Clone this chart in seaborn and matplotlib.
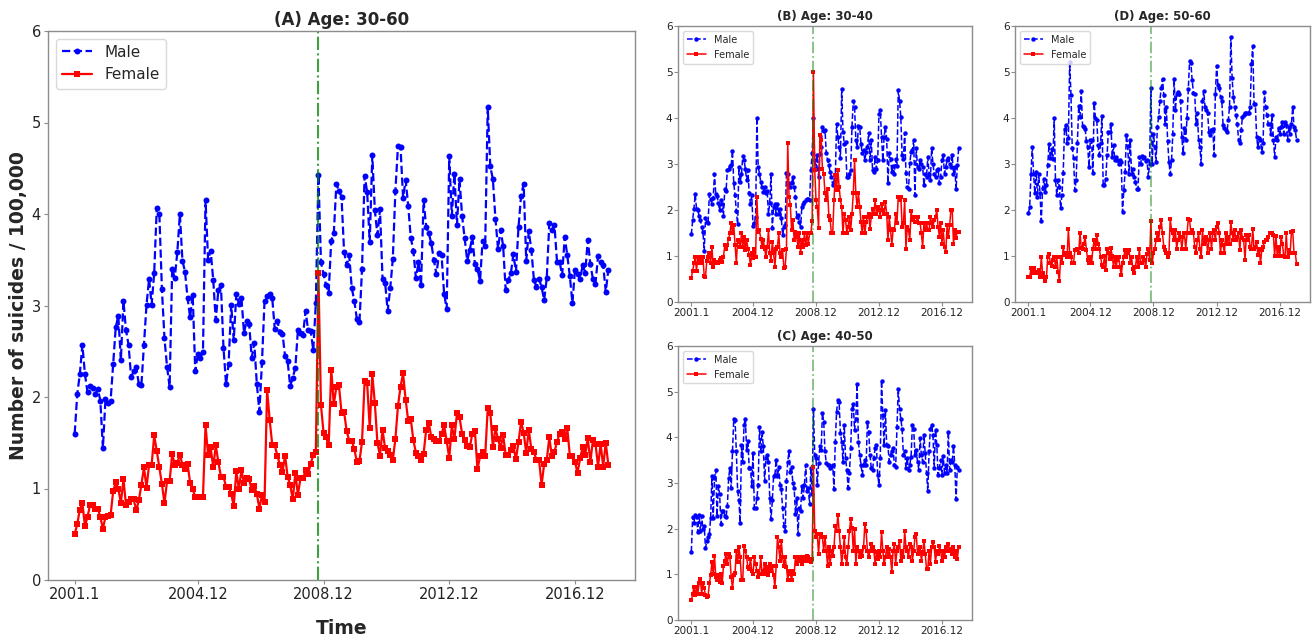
import numpy as np
import seaborn as sns
import matplotlib
matplotlib.use("Agg")
import matplotlib.pyplot as plt

# monthly rates, 2001.1 onwards (209 months)
tick_pos = [0, 48, 97, 146, 195]
tick_labels = ['2001.1', '2004.12', '2008.12', '2012.12', '2016.12']
event_month = 95  # 2008.12

# (A) age 30-60
male_a = [
    1.60, 2.03, 2.25, 2.57, 2.25, 2.05, 2.12, 2.10, 2.03, 2.09,
    1.96, 1.44, 1.98, 1.93, 1.96, 2.36, 2.76, 2.89, 2.40, 3.05,
    2.73, 2.57, 2.22, 2.28, 2.33, 2.14, 2.13, 2.57, 3.01, 3.29,
    3.01, 3.36, 4.07, 4.00, 3.18, 2.64, 2.33, 2.11, 3.40, 3.30,
    3.58, 4.00, 3.49, 3.37, 3.08, 2.87,
    3.12, 2.28, 2.47, 2.43, 2.49, 4.15, 3.50, 3.60, 3.28, 2.84,
    3.17, 3.22, 2.54, 2.14, 2.36, 3.01, 2.62, 3.13, 3.02, 3.08,
    2.70, 2.83, 2.80, 2.43, 2.59, 2.14, 1.84, 2.38, 3.05, 3.10,
    3.13, 3.08, 2.74, 2.83, 2.71, 2.69, 2.45, 2.39, 2.12, 2.21,
    2.32, 2.73, 2.70, 2.68, 2.94, 2.73, 2.72, 2.51, 3.03,
    4.43,
    3.47, 3.34, 3.22, 3.14, 3.71, 3.79, 4.33, 4.25, 4.19, 3.59,
    3.44, 3.55, 3.19, 3.05, 2.85, 2.82, 3.40, 4.42, 4.24, 3.69,
    4.64, 4.04, 3.77, 4.05, 3.29, 3.25, 2.94, 3.19, 3.51, 4.25,
    4.74, 4.73, 4.18, 4.37, 4.09, 3.74, 3.60, 3.30, 3.47, 3.22,
    4.15, 3.86, 3.79, 3.68, 3.50, 3.34, 3.57, 3.55, 3.13, 2.96,
    4.63, 3.98, 4.44, 3.88, 4.38, 3.98, 3.74, 3.49,
    3.61, 3.75, 3.45, 3.40, 3.27, 3.71, 3.65, 5.17, 4.52, 4.38,
    3.95, 3.62, 3.83, 3.65, 3.17, 3.28, 3.35, 3.56, 3.37, 3.86,
    4.20, 4.33, 3.49, 3.81, 3.61, 3.28, 3.20, 3.29, 3.20, 3.06,
    3.30, 3.90, 3.83, 3.88, 3.48, 3.48, 3.33, 3.75, 3.55, 3.32,
    3.03, 3.39, 3.34, 3.29, 3.44, 3.36, 3.72, 3.45, 3.29, 3.24,
    3.54, 3.48, 3.44, 3.15, 3.39,
]
female_a = [
    0.50, 0.61, 0.77, 0.84, 0.59, 0.69, 0.82, 0.82, 0.78, 0.78,
    0.69, 0.56, 0.69, 0.70, 0.71, 0.97, 1.07, 1.00, 0.84, 1.10,
    0.82, 0.85, 0.88, 0.88, 0.76, 0.87, 1.04, 1.23, 1.01, 1.26,
    1.26, 1.58, 1.41, 1.23, 1.05, 0.84, 1.08, 1.08, 1.38, 1.26,
    1.28, 1.37, 1.26, 1.21, 1.27,
    1.06, 0.99, 0.91, 0.91, 0.91, 0.91, 1.69, 1.37, 1.45, 1.23,
    1.47, 1.29, 1.13, 1.13, 1.02, 1.02, 0.94, 0.81, 1.19, 0.99,
    1.20, 1.06, 1.12, 1.10, 0.98, 1.03, 0.94, 0.78, 0.93, 0.85,
    2.08, 1.75, 1.48, 1.47, 1.36, 1.26, 1.18, 1.36, 1.13, 1.04,
    0.88, 1.17, 0.93, 1.11, 1.11, 1.20, 1.16, 1.27, 1.37, 1.40,
    3.35,
    1.91, 1.61, 1.56, 1.47, 2.30, 1.92, 2.11, 2.13, 1.83, 1.84,
    1.63, 1.52, 1.52, 1.43, 1.29, 1.30, 1.51, 2.17, 2.15, 1.66,
    2.25, 1.93, 1.50, 1.36, 1.64, 1.44, 1.41, 1.37, 1.31, 1.54,
    1.90, 2.11, 2.26, 1.97, 1.74, 1.76, 1.53, 1.39, 1.35, 1.31,
    1.38, 1.64, 1.72, 1.56, 1.54, 1.52, 1.52, 1.60, 1.69, 1.52,
    1.33, 1.69, 1.54, 1.82, 1.78, 1.60, 1.53, 1.46,
    1.45, 1.60, 1.63, 1.21, 1.35, 1.40, 1.35, 1.88, 1.83, 1.45,
    1.66, 1.54, 1.44, 1.58, 1.37, 1.37, 1.42, 1.46, 1.32, 1.51,
    1.73, 1.61, 1.39, 1.64, 1.43, 1.40, 1.31, 1.31, 1.04, 1.27,
    1.31, 1.56, 1.35, 1.40, 1.51, 1.60, 1.62, 1.54, 1.66, 1.36,
    1.35, 1.29, 1.17, 1.33, 1.45, 1.37, 1.55, 1.29, 1.53, 1.49,
    1.24, 1.49, 1.24, 1.50, 1.26,
]

# (B) age 30-40
male_b = [
    1.47, 1.78, 2.03, 2.34, 2.03, 2.00, 1.87, 1.78, 1.64, 1.53,
    1.11, 1.82, 1.74, 1.71, 2.34, 2.24, 2.13, 2.27, 2.78, 2.34,
    2.30, 2.15, 2.00, 2.21, 2.13, 1.87, 2.46, 2.42, 2.87, 2.90,
    2.95, 2.97, 3.29, 2.58, 2.32, 1.98, 1.69, 2.94, 2.61, 2.78,
    3.17, 3.08, 2.90, 2.65, 2.87, 2.36, 2.14, 2.32, 1.65, 1.71,
    1.85, 4.01, 2.94, 2.79, 2.61, 2.50, 2.40, 2.50, 2.36, 2.42,
    1.92, 2.16, 2.78, 1.60, 2.07, 2.13, 1.92, 2.13, 1.92, 2.03,
    1.82, 1.45, 1.64, 1.67, 2.81, 2.79, 2.59, 2.50, 2.59, 2.71,
    2.50, 2.29, 1.85, 1.89, 1.74, 1.64, 2.07, 2.14, 2.18, 2.21,
    2.23, 2.25, 2.21, 2.87, 3.23, 4.01, 3.08, 2.90, 3.19, 2.71,
    3.21, 3.37, 3.81, 3.72, 3.75, 3.23, 3.08, 2.97, 2.83, 2.72,
    2.54, 2.61, 2.68, 3.88, 3.59, 3.37, 3.12, 4.64, 3.70, 3.44,
    3.48, 2.72, 2.71, 2.79, 2.87, 3.81, 4.37, 4.25, 3.52, 3.37,
    3.82, 3.81, 3.44, 3.23, 3.30, 3.08, 3.26, 3.37, 3.68, 3.08,
    3.53, 2.87, 2.83, 3.15, 2.90, 3.08, 4.08, 4.17, 3.59, 3.08,
    3.59, 3.81, 3.55, 2.59, 3.23, 3.10, 2.83, 2.95, 2.79, 3.10,
    2.95, 4.60, 4.38, 4.02, 3.19, 3.10, 3.68, 2.81, 2.50, 2.45,
    3.02, 3.26, 3.30, 3.52, 2.32, 3.34, 2.94, 2.90, 3.08, 3.01,
    2.94, 2.54, 2.79, 2.72, 3.15, 2.79, 2.65, 3.34, 3.01, 2.79,
    2.72, 2.87, 2.90, 2.58, 2.72, 3.08, 3.19, 2.79, 2.94, 3.08,
    3.12, 3.01, 2.94, 3.19, 2.79, 2.94, 2.45, 2.97, 3.34,
]
female_b = [
    0.53, 0.68, 0.84, 0.98, 0.68, 0.98, 0.84, 0.98, 0.84, 0.98,
    0.56, 0.55, 0.90, 0.98, 1.06, 0.84, 1.20, 0.77, 0.91, 0.84,
    0.88, 0.84, 0.91, 0.95, 0.88, 0.98, 1.24, 1.16, 1.24, 1.38,
    1.49, 1.72, 1.49, 1.67, 1.24, 0.85, 1.35, 1.31, 1.20, 1.49,
    1.20, 1.42, 1.13, 1.35, 1.16, 1.02, 0.80, 1.06, 0.95, 1.16,
    0.98, 2.29, 1.53, 1.56, 1.38, 1.20, 1.35, 1.16, 0.98, 1.20,
    1.56, 1.06, 0.90, 1.31, 1.06, 0.77, 1.16, 1.20, 1.49, 1.06,
    0.98, 1.13, 0.73, 0.77, 1.16, 3.46, 2.29, 2.11, 1.56, 1.78,
    1.35, 1.53, 1.42, 1.20, 1.49, 1.06, 1.35, 1.20, 1.49, 1.24,
    1.49, 1.27, 1.49, 1.49, 1.77, 5.00, 2.87, 2.21, 2.07, 1.60,
    3.62, 3.52, 2.90, 2.79, 2.36, 2.21, 2.45, 1.87, 1.78, 1.49,
    1.49, 2.21, 2.76, 2.43, 2.87, 2.50, 2.21, 2.07, 1.49, 1.92,
    1.78, 1.49, 1.64, 1.85, 1.56, 1.92, 2.36, 3.08, 2.36, 2.07,
    2.36, 2.07, 1.74, 1.49, 1.85, 1.49, 1.74, 1.85, 1.92, 1.59,
    1.85, 2.03, 1.92, 2.21, 1.92, 2.07, 2.00, 1.85, 2.14, 2.00,
    1.92, 2.18, 1.92, 1.35, 1.85, 1.56, 1.24, 1.58, 1.56, 1.92,
    1.71, 2.29, 2.21, 2.29, 1.64, 1.71, 2.21, 1.16, 1.64, 1.56,
    1.35, 1.98, 1.78, 1.85, 1.74, 1.74, 1.85, 1.72, 1.72, 1.49,
    1.20, 1.71, 1.56, 1.71, 1.56, 1.56, 1.85, 1.71, 1.64, 1.78,
    1.85, 2.00, 1.64, 1.42, 1.71, 1.27, 1.56, 1.20, 1.09, 1.67,
    1.42, 1.67, 2.00, 2.00, 1.27, 1.56, 1.40, 1.53, 1.53,
]

# (C) age 40-50
male_c = [
    1.50, 2.26, 2.13, 2.31, 2.26, 1.92, 2.31, 1.95, 2.28, 1.99,
    2.06, 1.58, 1.72, 1.81, 1.88, 2.24, 3.15, 2.24, 3.11, 3.29,
    2.28, 2.93, 2.75, 2.10, 2.39, 2.39, 2.28, 2.26, 2.49, 3.11,
    3.33, 2.89, 3.69, 4.41, 4.37, 3.69, 2.83, 2.62, 2.13, 3.83,
    3.47, 4.27, 4.41, 3.72, 3.92, 3.33, 3.33, 2.93, 3.65, 2.46,
    2.46, 2.68, 2.95, 4.23, 3.69, 4.12, 3.80, 3.04, 3.54, 3.62,
    3.47, 2.68, 2.21, 2.62, 3.15, 3.18, 3.51, 3.15, 3.36, 2.96,
    2.86, 2.46, 2.06, 1.95, 3.04, 3.47, 3.69, 3.25, 3.34, 3.00,
    2.89, 2.33, 2.68, 1.88, 2.46, 2.39, 2.93, 2.68, 2.96, 3.40,
    2.82, 2.89, 2.53, 3.33, 2.75, 4.63, 3.62, 3.54, 2.96, 3.43,
    3.80, 3.72, 4.53, 4.34, 3.69, 3.43, 3.40, 3.40, 3.33, 3.36,
    3.40, 2.86, 3.90, 4.56, 4.81, 4.77, 4.09, 3.90, 3.47, 4.27,
    3.54, 3.29, 2.89, 3.22, 3.76, 4.63, 4.74, 4.16, 4.41, 5.17,
    3.90, 3.62, 3.40, 3.18, 3.40, 3.51, 3.40, 4.34, 4.12, 3.62,
    3.33, 3.29, 3.54, 3.76, 3.83, 3.18, 2.96, 3.54, 5.24, 4.48,
    3.83, 4.59, 3.83, 3.80, 3.47, 3.62, 3.69, 3.76, 3.40, 3.36,
    4.23, 5.06, 4.63, 4.41, 4.19, 3.62, 3.69, 3.33, 3.54, 3.29,
    3.40, 3.58, 4.27, 4.19, 3.62, 3.72, 3.47, 3.29, 3.98, 3.62,
    3.47, 4.05, 3.65, 3.22, 2.82, 3.69, 4.19, 4.27, 4.05, 3.33,
    4.16, 3.83, 3.18, 3.33, 3.51, 3.18, 3.60, 3.22, 3.40, 3.22,
    4.12, 3.29, 3.51, 3.47, 3.80, 3.40, 2.64, 3.36, 3.29,
]
female_c = [
    0.43, 0.56, 0.72, 0.54, 0.72, 0.58, 0.80, 0.90, 0.58, 0.80,
    0.69, 0.54, 0.51, 0.52, 0.80, 0.98, 1.27, 1.01, 1.41, 0.94,
    0.87, 0.98, 0.83, 1.01, 0.81, 1.19, 1.30, 1.45, 1.23, 1.45,
    1.37, 0.94, 0.69, 0.98, 1.03, 1.52, 1.27, 1.59, 1.37, 0.87,
    0.87, 1.63, 1.52, 1.37, 1.16, 1.12, 1.34, 1.08, 1.01, 1.37,
    1.23, 1.08, 0.94, 1.01, 1.37, 1.01, 1.08, 1.23, 1.01, 1.16,
    0.98, 1.23, 1.08, 1.19, 0.98, 0.72, 1.19, 1.81, 1.59, 1.30,
    1.74, 1.37, 1.19, 1.37, 1.16, 0.87, 1.08, 1.01, 0.87, 1.08,
    1.01, 1.37, 1.23, 1.37, 1.30, 1.37, 1.23, 1.30, 1.37, 1.30,
    1.41, 1.37, 1.30, 1.27, 1.34, 3.36, 1.95, 1.81, 1.88, 1.45,
    1.88, 1.88, 1.81, 1.52, 1.81, 1.52, 1.19, 1.59, 1.23, 1.52,
    1.41, 1.59, 2.06, 1.95, 2.31, 1.95, 1.59, 1.23, 1.48, 1.81,
    1.37, 1.23, 1.59, 1.95, 2.21, 2.02, 1.52, 1.99, 1.23, 1.59,
    1.52, 1.37, 1.52, 1.41, 1.59, 2.10, 1.95, 1.52, 1.37, 1.52,
    1.66, 1.59, 1.52, 1.23, 1.48, 1.34, 1.52, 1.39, 1.92, 1.52,
    1.23, 1.37, 1.59, 1.37, 1.55, 1.37, 1.05, 1.52, 1.66, 1.23,
    1.52, 1.59, 1.74, 1.30, 1.52, 1.37, 1.95, 1.59, 1.52, 1.37,
    1.66, 1.59, 1.30, 1.52, 1.81, 1.88, 1.45, 1.52, 1.59, 1.30,
    1.48, 1.74, 1.45, 1.12, 1.12, 1.52, 1.23, 1.59, 1.70, 1.59,
    1.27, 1.52, 1.45, 1.61, 1.52, 1.30, 1.52, 1.37, 1.59, 1.52,
    1.66, 1.52, 1.55, 1.45, 1.59, 1.37, 1.52, 1.34, 1.59,
]

# (D) age 50-60
male_d = [
    1.93, 2.07, 2.79, 3.37, 2.79, 2.36, 2.83, 2.29, 2.79, 2.36,
    1.77, 2.47, 2.68, 2.40, 2.54, 2.97, 3.43, 3.12, 3.32, 3.11,
    4.00, 2.65, 2.33, 2.65, 2.51, 2.04, 2.33, 2.81, 3.77, 3.85,
    3.45, 3.56, 5.21, 4.51, 3.35, 3.12, 2.43, 2.65, 3.45, 4.26,
    4.03, 4.58, 3.83, 3.80, 3.77, 3.49, 3.37, 2.94, 3.52, 3.52,
    2.81, 4.32, 3.99, 3.96, 3.41, 3.20, 3.45, 4.05, 2.54, 2.54,
    2.68, 3.20, 3.70, 3.70, 3.88, 3.16, 3.41, 3.09, 3.16, 3.09,
    3.01, 3.09, 3.05, 1.96, 2.43, 2.83, 3.63, 3.39, 2.79, 3.52,
    2.79, 2.90, 2.72, 2.61, 2.45, 2.46, 3.16, 3.00, 3.17, 3.12,
    3.16, 3.07, 3.08, 2.72, 3.01, 4.66, 3.01, 3.66, 3.37, 3.05,
    3.81, 4.02, 4.38, 4.66, 4.85, 4.49, 3.88, 4.24, 3.49, 3.05,
    2.78, 3.08, 3.66, 4.84, 4.17, 4.53, 4.56, 4.53, 4.38, 3.59,
    3.23, 3.78, 3.52, 3.99, 4.62, 5.25, 5.19, 4.82, 4.55, 4.52,
    3.88, 4.10, 3.52, 3.37, 3.01, 4.38, 4.59, 4.24, 4.17, 4.10,
    3.70, 3.63, 3.73, 3.77, 3.19, 4.53, 5.14, 4.71, 4.66, 4.46,
    4.38, 3.84, 3.79, 3.73, 3.70, 3.95, 4.24, 5.76, 4.86, 4.46,
    4.24, 4.06, 3.88, 3.52, 3.45, 3.73, 4.02, 4.06, 4.10, 4.10,
    4.10, 4.10, 4.24, 5.18, 5.56, 4.31, 4.31, 3.59, 3.36, 3.57,
    3.52, 3.26, 3.45, 4.57, 4.24, 4.06, 3.88, 3.86, 3.66, 4.06,
    3.52, 3.16, 3.59, 3.52, 3.79, 3.66, 3.81, 3.92, 3.66, 3.92,
    3.84, 3.52, 3.81, 3.66, 3.88, 4.23, 3.81, 3.73, 3.52,
]
female_d = [
    0.55, 0.55, 0.73, 0.62, 0.73, 0.62, 0.66, 0.62, 0.69, 0.55,
    0.98, 0.62, 0.55, 0.45, 0.55, 0.98, 1.04, 0.84, 0.78, 0.91,
    0.98, 0.77, 0.98, 0.66, 0.45, 0.98, 0.84, 1.20, 1.02, 1.06,
    0.98, 1.58, 1.06, 0.98, 0.84, 0.84, 1.13, 1.13, 1.16, 1.06,
    1.51, 1.17, 1.16, 1.27, 1.41, 1.13, 0.91, 0.84, 0.98, 0.84,
    1.16, 1.34, 1.16, 1.45, 1.27, 1.16, 0.98, 0.80, 0.77, 1.00,
    0.69, 1.16, 1.06, 0.93, 1.17, 1.00, 0.77, 0.98, 0.77, 0.91,
    0.98, 0.77, 0.58, 0.84, 0.98, 1.14, 0.98, 1.06, 1.14, 0.84,
    0.98, 0.71, 0.62, 0.77, 0.98, 0.77, 1.16, 0.84, 0.84, 0.98,
    0.91, 0.77, 1.04, 1.16, 0.91, 1.77, 0.84, 1.06, 1.16, 1.34,
    1.49, 1.34, 1.64, 1.78, 1.49, 1.20, 1.13, 1.06, 0.98, 1.06,
    1.81, 1.56, 1.49, 1.34, 1.56, 1.16, 1.34, 1.49, 1.42, 1.16,
    1.42, 1.49, 1.16, 1.49, 1.81, 1.78, 1.49, 1.56, 1.49, 1.20,
    1.06, 1.34, 1.49, 1.16, 0.98, 1.56, 1.27, 1.34, 1.42, 1.06,
    1.34, 1.49, 1.16, 1.49, 1.56, 1.34, 1.64, 1.71, 1.49, 1.06,
    1.34, 1.24, 1.06, 1.49, 1.27, 1.42, 1.27, 1.74, 1.49, 1.34,
    1.56, 1.34, 1.42, 1.49, 1.13, 1.56, 1.40, 1.34, 0.91, 1.45,
    1.34, 1.45, 1.20, 1.16, 1.58, 1.16, 1.20, 1.31, 1.02, 1.16,
    0.84, 1.13, 1.20, 1.31, 1.34, 1.34, 1.42, 1.49, 1.49, 1.49,
    1.45, 1.00, 1.43, 1.00, 1.20, 1.00, 1.42, 1.27, 1.00, 0.98,
    1.49, 0.98, 1.14, 1.06, 1.53, 1.54, 1.06, 1.06, 0.82,
]

sns.set_style("white")
plt.rcParams['font.family'] = ['DejaVu Sans']
plt.rcParams['axes.edgecolor'] = '#8c8c8c'
plt.rcParams['xtick.color'] = '#8c8c8c'
plt.rcParams['ytick.color'] = '#8c8c8c'
plt.rcParams['xtick.labelcolor'] = '#222222'
plt.rcParams['ytick.labelcolor'] = '#222222'
plt.rcParams['xtick.bottom'] = True
plt.rcParams['ytick.left'] = True
plt.rcParams['xtick.major.size'] = 3
plt.rcParams['ytick.major.size'] = 3


def draw_panel(ax, male, female, title, big):
    ms = 4.3 if big else 3.2
    lw = 1.6 if big else 1.1
    fs_tick = 10.5 if big else 7.5
    fs_title = 12 if big else 8.5
    fs_leg = 11 if big else 7
    sns.lineplot(x=np.arange(len(male)), y=male, ax=ax, color='blue',
                 linestyle='--', marker='o', markersize=ms, markeredgewidth=0,
                 linewidth=lw, label='Male')
    sns.lineplot(x=np.arange(len(female)), y=female, ax=ax, color='red',
                 linestyle='-', marker='s', markersize=ms, markeredgewidth=0,
                 linewidth=lw, label='Female')
    ax.axvline(event_month, color='green', linestyle='-.',
               linewidth=1.5 if big else 1.3, alpha=0.75 if big else 0.5)
    ax.set_ylim(0, 6)
    ax.set_xticks(tick_pos)
    ax.set_xticklabels(tick_labels)
    ax.tick_params(labelsize=fs_tick, pad=2 if big else 1)
    ax.set_title(title, fontsize=fs_title, fontweight='bold', pad=4)
    ax.legend(loc='upper left', fontsize=fs_leg, frameon=True,
              framealpha=0.8, edgecolor='#d0d0d0', fancybox=True)
    ax.set_xlabel('')
    ax.set_ylabel('')
    for s in ax.spines.values():
        s.set_linewidth(1.0)


W, H = 1313, 636
fig = plt.figure(figsize=(W / 100, H / 100), dpi=100)


def add_ax(x0, x1, y0, y1):
    return fig.add_axes([x0 / W, 1 - y1 / H, (x1 - x0) / W, (y1 - y0) / H])


ax_a = add_ax(48, 635, 31, 580)
ax_b = add_ax(678, 972, 26, 302)
ax_d = add_ax(1015, 1310, 26, 302)
ax_c = add_ax(678, 972, 346, 620)

draw_panel(ax_a, male_a, female_a, '(A) Age: 30-60', True)
draw_panel(ax_b, male_b, female_b, '(B) Age: 30-40', False)
draw_panel(ax_c, male_c, female_c, '(C) Age: 40-50', False)
draw_panel(ax_d, male_d, female_d, '(D) Age: 50-60', False)

ax_a.set_xlabel('Time', fontsize=13.5, fontweight='bold', labelpad=12)
ax_a.set_ylabel('Number of suicides / 100,000', fontsize=13.5,
                fontweight='bold', labelpad=4)
ax_a.yaxis.set_label_coords(-0.034, 0.5)

fig.savefig('out.png', dpi=100)
